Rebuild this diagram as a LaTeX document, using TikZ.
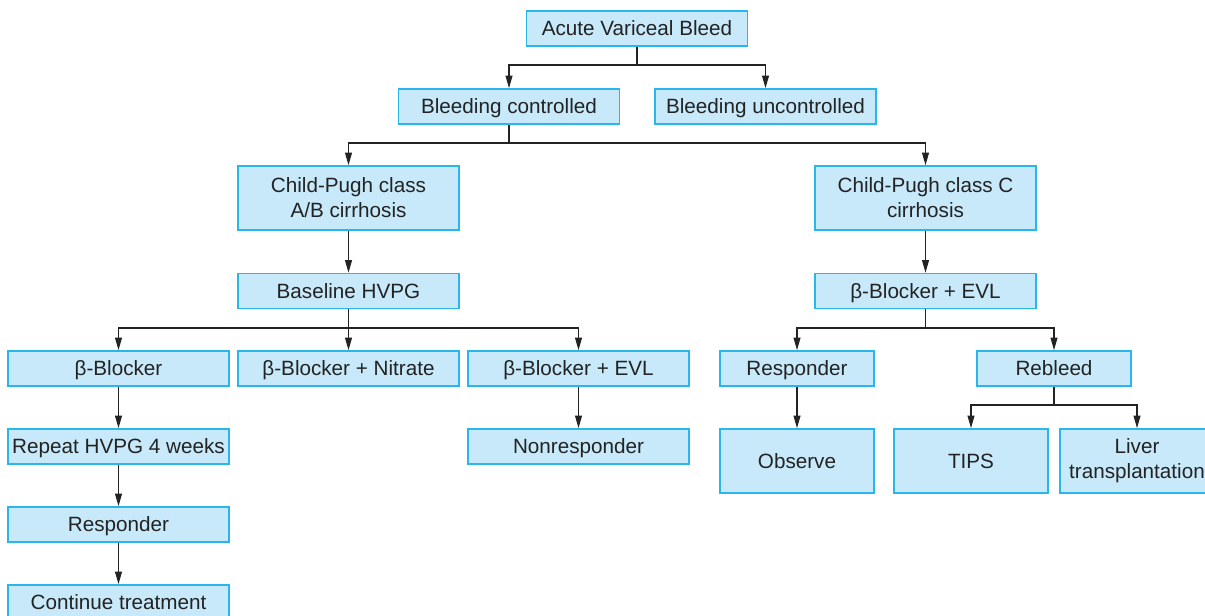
\documentclass[tikz,border=0pt]{standalone}
\usepackage{fontspec}
\setmainfont{Liberation Sans}
\usepackage{tikz}
\usetikzlibrary{
	arrows.meta,
	positioning,
	calc
}
\definecolor{boxfill}{RGB}{199,233,249}
\definecolor{boxline}{RGB}{41,182,234}
\definecolor{ink}{RGB}{35,35,35}

\begin{document}
\begin{tikzpicture}[
			x=0.75pt, y=-0.75pt,
			font=\fontsize{15.5pt}{18.75pt}\selectfont,
			base/.style={draw=boxline, line width=1.2pt, fill=boxfill, text=ink, align=center,
				inner sep=2pt, minimum width=165.75pt, minimum height=26.25pt},
			box/.style={base, text height=11.2pt, text depth=0pt},
			tallbox/.style={base, minimum height=48pt},
			smallbox/.style={box, minimum width=115.5pt},
			smalltall/.style={tallbox, minimum width=115.5pt},
			>={Triangle[length=9.5pt, width=5.2pt]},
			ln/.style={draw=ink, line width=0.95pt},
			fl/.style={ln, ->}
		]
		\useasboundingbox (0,0) rectangle (1205,616);

		\node[box] (avb) at (637,28.5) {Acute Variceal Bleed};
		\node[box] (bc) at (509,106.5) {Bleeding controlled};
		\node[box] (bu) at (765.5,106.5) {Bleeding uncontrolled};

		\node[tallbox] (cpab) at (348.5,198) {Child-Pugh class\\ A/B cirrhosis};
		\node[tallbox] (cpc) at (925.5,198) {Child-Pugh class C\\ cirrhosis};

		\node[box] (hvpg) at (348.5,291) {Baseline HVPG};
		\node[box] (bevlr) at (925.5,291) {β-Blocker + EVL};

		\node[box] (bb) at (118.5,368.5) {β-Blocker};
		\node[box] (bbn) at (348.5,368.5) {β-Blocker + Nitrate};
		\node[box] (bbe) at (578.5,368.5) {β-Blocker + EVL};
		\node[smallbox] (resr) at (797,368.5) {Responder};
		\node[smallbox] (reb) at (1054,368.5) {Rebleed};

		\node[box] (rep) at (118.5,446.5) {Repeat HVPG 4 weeks};
		\node[box] (nonr) at (578.5,446.5) {Nonresponder};
		\node[smalltall] (obs) at (797,461) {Observe};
		\node[smalltall] (tips) at (971,461) {TIPS};
		\node[smalltall] (liver) at (1137,461) {Liver\\ transplantation};

		\node[box] (resl) at (118.5,524.5) {Responder};
		\node[box] (cont) at (118.5,602.5) {Continue treatment};

		% branching points
		\coordinate (f1) at (637,65);
		\coordinate (f2) at (509,143);
		\coordinate (f3) at (348.5,328);
		\coordinate (f4) at (925.5,328);
		\coordinate (f5) at (1054,405);

		\draw[ln] (avb) -- (f1);
		\draw[fl] (f1) -| (bc.north);
		\draw[fl] (f1) -| (bu.north);

		\draw[ln] (bc) -- (f2);
		\draw[fl] (f2) -| (cpab.north);
		\draw[fl] (f2) -| (cpc.north);

		\draw[fl] (cpab) -- (hvpg);
		\draw[fl] (cpc) -- (bevlr);

		\draw[ln] (hvpg) -- (f3);
		\draw[fl] (f3) -| (bb.north);
		\draw[fl] (f3) -- (bbn);
		\draw[fl] (f3) -| (bbe.north);

		\draw[ln] (bevlr) -- (f4);
		\draw[fl] (f4) -| (resr.north);
		\draw[fl] (f4) -| (reb.north);

		\draw[fl] (bb) -- (rep);
		\draw[fl] (rep) -- (resl);
		\draw[fl] (resl) -- (cont);
		\draw[fl] (bbe) -- (nonr);
		\draw[fl] (resr) -- (obs);

		\draw[ln] (reb) -- (f5);
		\draw[fl] (f5) -| (tips.north);
		\draw[fl] (f5) -| (liver.north);
	\end{tikzpicture}
\end{document}
